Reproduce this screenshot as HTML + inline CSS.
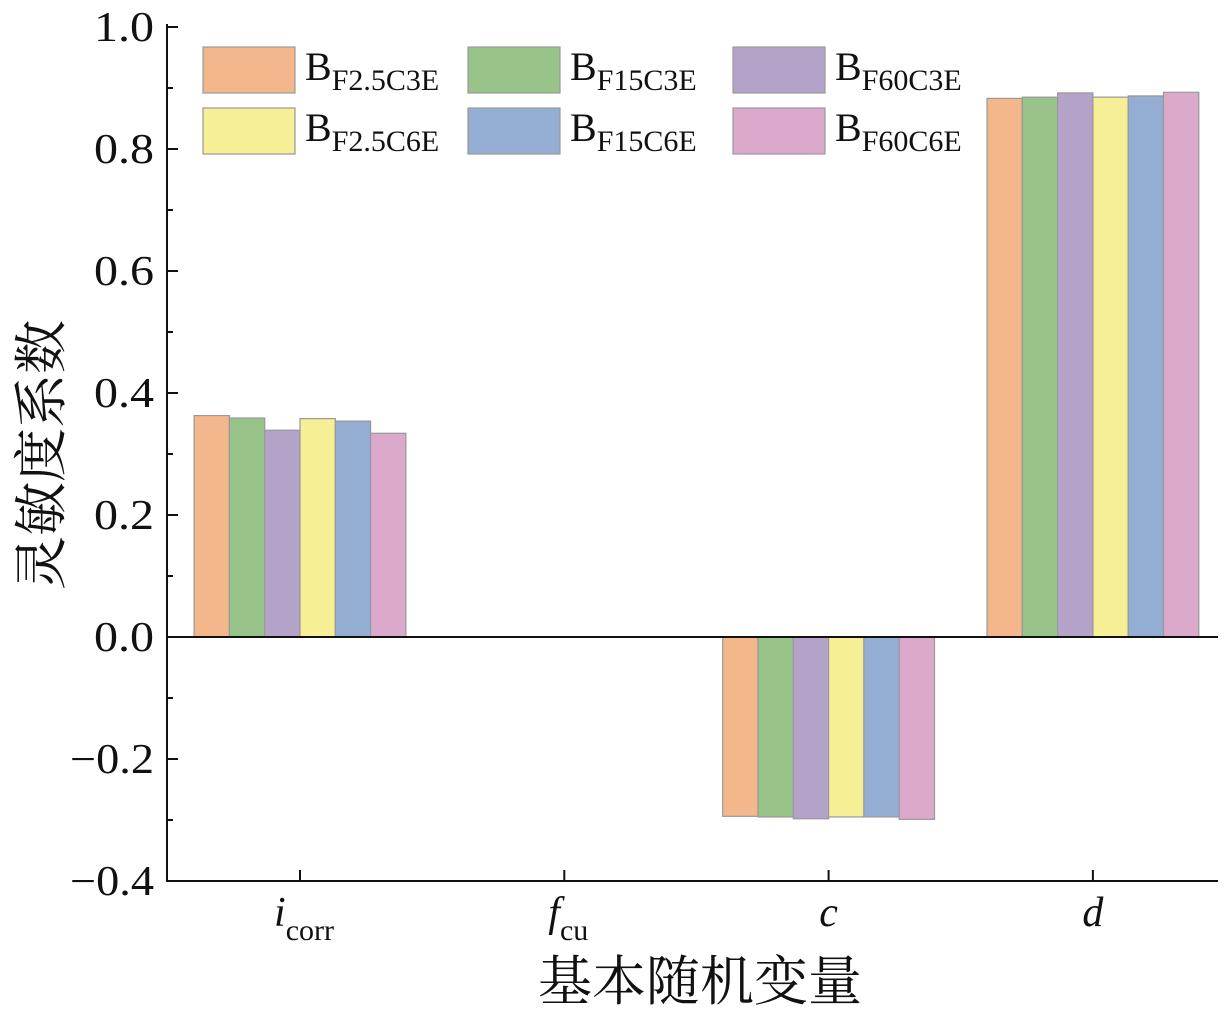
<!DOCTYPE html>
<html><head><meta charset="utf-8"><style>
body{margin:0;background:#fff}
svg text{font-family:"Liberation Serif","Noto Serif CJK SC",serif;fill:#111}
</style></head><body>
<svg id="chart" width="1226" height="1009" xmlns="http://www.w3.org/2000/svg">
<g id="bars"></g>
<g id="axes"></g>
<g id="legend"></g>
<text transform="translate(60,455) rotate(-90)" text-anchor="middle" font-size="54">灵敏度系数</text>
<text x="700" y="1000" text-anchor="middle" font-size="54">基本随机变量</text>
</svg>
<script>
const categories=["i","f","c","d"];
const seriesNames=["F2.5C3E","F15C3E","F60C3E","F2.5C6E","F15C6E","F60C6E"];
const s1=[0.363,0,-0.294,0.883];
const s2=[0.359,0,-0.295,0.885];
const s3=[0.339,0,-0.298,0.892];
const s4=[0.358,0,-0.295,0.885];
const s5=[0.354,0,-0.295,0.887];
const s6=[0.334,0,-0.299,0.893];
const series=[s1,s2,s3,s4,s5,s6];
const yTicks=[1.0,0.8,0.6,0.4,0.2,0.0,-0.2,-0.4];
const colors=["#F4B78C","#98C48A","#B3A3C8","#F6EF95","#93ADD3","#DBA9CB"];
const NS="http://www.w3.org/2000/svg";
const y=v=>637-v*610;
const xc=i=>300+i*264.3;
const bw=35.3;
function mk(t,a,p){const e=document.createElementNS(NS,t);for(const k in a)e.setAttribute(k,a[k]);p.appendChild(e);return e;}
const bars=document.getElementById('bars');
series.forEach((s,si)=>{s.forEach((v,ci)=>{
  if(v===0)return;
  const x0=xc(ci)-3*bw+si*bw;
  const r=mk('rect',{x:x0,y:Math.min(y(v),y(0)),width:bw,height:Math.abs(y(v)-y(0)),fill:colors[si],stroke:"#999","stroke-width":1.2},bars);
  
  
});});
const ax=document.getElementById('axes');
mk('line',{x1:167,y1:24,x2:167,y2:882,stroke:"#111","stroke-width":2},ax);
mk('line',{x1:166,y1:881,x2:1218,y2:881,stroke:"#111","stroke-width":2},ax);
mk('line',{x1:167,y1:y(0),x2:1218,y2:y(0),stroke:"#111","stroke-width":2},ax);
yTicks.forEach(v=>{
  mk('line',{x1:167,y1:y(v),x2:178,y2:y(v),stroke:"#111","stroke-width":2},ax);
  const t=mk('text',{x:154,y:y(v)+14,"text-anchor":"end","font-size":42,"textLength":v<0?84:60,"lengthAdjust":"spacingAndGlyphs"},ax);
  t.textContent=(v<0?"\u2212":"")+Math.abs(v).toFixed(1);
  
  
});
for(let v=-0.3;v<1.0;v+=0.2){mk('line',{x1:167,y1:y(v),x2:173,y2:y(v),stroke:"#111","stroke-width":2},ax);}
categories.forEach((c,i)=>{mk('line',{x1:xc(i),y1:881,x2:xc(i),y2:870,stroke:"#111","stroke-width":2},ax);});
const xl=[["i","corr"],["f","cu"],["c",""],["d",""]];
xl.forEach((l,i)=>{
  const t=mk('text',{x:xc(i)+(l[1]?4:0),y:926,"text-anchor":"middle","font-size":42,"font-style":"italic"},ax);
  
  
  const a=document.createElementNS(NS,'tspan');a.textContent=l[0];t.appendChild(a);
  if(l[1]){const b=document.createElementNS(NS,'tspan');b.setAttribute('font-size','30');b.setAttribute('font-style','normal');b.setAttribute('dy','14');b.textContent=l[1];t.appendChild(b);}
});
const lg=document.getElementById('legend');
seriesNames.forEach((nm,si)=>{
  const col=si%3,row=Math.floor(si/3);
  const x0=203+col*265,y0=47+row*61;
  const g=mk('g',{},lg);
  
  
  mk('rect',{x:x0,y:y0,width:92,height:46,fill:colors[si],stroke:"#999","stroke-width":1.2},g);
  const t=mk('text',{x:x0+102,y:y0+33,"font-size":40},g);
  const a=document.createElementNS(NS,'tspan');a.textContent="B";t.appendChild(a);
  const b=document.createElementNS(NS,'tspan');b.setAttribute('font-size','30');b.setAttribute('dy','10');b.textContent=nm;t.appendChild(b);
});
</script>
</body></html>
